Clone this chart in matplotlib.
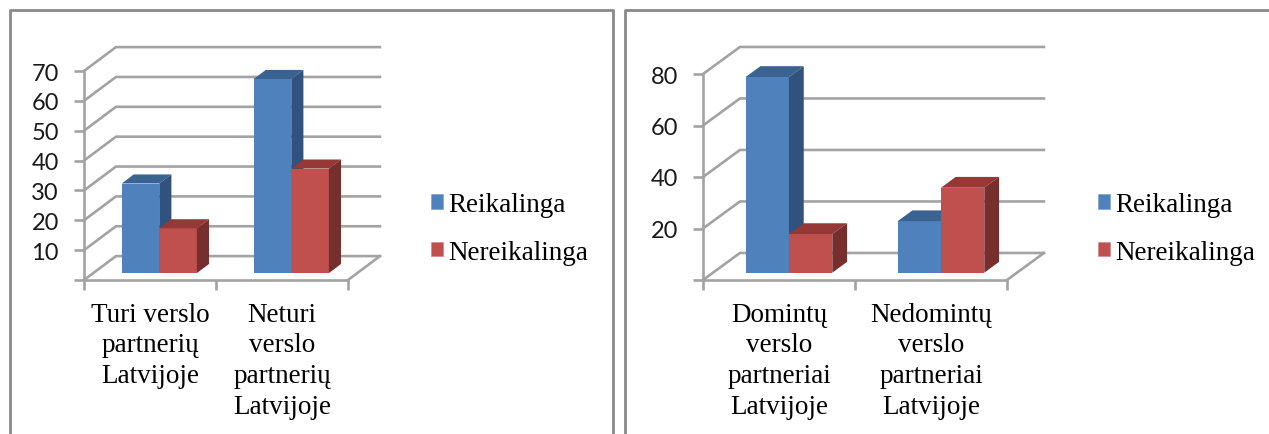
import matplotlib; matplotlib.use("Agg"); import matplotlib.pyplot as plt
from matplotlib.patches import Polygon, Patch
from matplotlib.lines import Line2D

W, H = 1269, 435
SERIES = ["Reikalinga", "Nereikalinga"]

CATS_L = ["Turi verslo\npartnerių\nLatvijoje", "Neturi\nverslo\npartnerių\nLatvijoje"]
REIK_L = [30, 65]
NEREIK_L = [15, 35]
TICKS_L = [0, 10, 20, 30, 40, 50, 60, 70]

CATS_R = ["Domintų\nverslo\npartneriai\nLatvijoje", "Nedomintų\nverslo\npartneriai\nLatvijoje"]
REIK_R = [76, 20]
NEREIK_R = [15, 33]
TICKS_R = [0, 20, 40, 60, 80]

FRONT = ["#4F81BD", "#C0504D"]
TOP = ["#3A6391", "#953836"]
SIDE = ["#30527C", "#772F2D"]
GRID = "#A3A3A3"
BAR_W = 0.285
LW = 1.9


def px_axes(fig, x0, x1, ytop, ybot):
    return fig.add_axes([x0 / W, 1 - ybot / H, (x1 - x0) / W, (ybot - ytop) / H])


def chart(ax, cats, a, b, ticks, depth_x, depth_y, near, far):
    """Fake Excel 3D columns. depth_x in category units, depth_y in value units;
    near/far = fraction of the floor depth where the bars start and end."""
    ax.set_xlim(0, len(cats)); ax.set_ylim(0, ticks[-1])
    ax.patch.set_visible(False)
    for s in ["top", "right"]:
        ax.spines[s].set_visible(False)
    for s in ["left", "bottom"]:
        ax.spines[s].set_color(GRID); ax.spines[s].set_linewidth(LW)
    ax.set_yticks(ticks)
    ax.set_yticklabels([""] + [str(t) for t in ticks[1:]], fontfamily="Lato", fontsize=17, color="#1a1a1a")
    ax.tick_params(axis="y", length=7, width=LW, color=GRID, pad=11)
    ax.set_xticks(range(len(cats) + 1)); ax.set_xticklabels([])
    ax.tick_params(axis="x", which="major", length=7, width=LW, color=GRID)
    ax.set_xticks([i + 0.5 for i in range(len(cats))], minor=True)
    ax.set_xticklabels(cats, minor=True, fontfamily="Liberation Serif", fontsize=19.5, linespacing=1.3)
    ax.tick_params(axis="x", which="minor", length=0, pad=15.5)

    # back wall gridlines + the diagonals running to the axis
    for t in ticks:
        ax.plot([0, depth_x, len(cats) + depth_x], [t, t + depth_y, t + depth_y], color=GRID, lw=LW,
                clip_on=False, zorder=1, solid_joinstyle="miter")
    ax.plot([len(cats), len(cats) + depth_x], [0, depth_y], color=GRID, lw=LW, clip_on=False, zorder=1)

    x_s, y_s = near * depth_x, near * depth_y
    dx, dy = (far - near) * depth_x, (far - near) * depth_y
    for i in range(len(cats)):
        left = i + 0.5 - BAR_W + x_s
        for j, v in enumerate([a[i], b[i]]):
            x0, x1 = left + j * BAR_W, left + (j + 1) * BAR_W
            y0, y1 = y_s, v + y_s
            z = 3 + j
            ax.add_patch(Polygon([(x0, y0), (x1, y0), (x1, y1), (x0, y1)], fc=FRONT[j], ec="none", clip_on=False, zorder=z))
            ax.add_patch(Polygon([(x0, y1), (x1, y1), (x1 + dx, y1 + dy), (x0 + dx, y1 + dy)], fc=TOP[j], ec="none", clip_on=False, zorder=z))
            ax.add_patch(Polygon([(x1, y0), (x1 + dx, y0 + dy), (x1 + dx, y1 + dy), (x1, y1)], fc=SIDE[j], ec="none", clip_on=False, zorder=z))


def key(fig, x, y):
    handles = [Patch(fc=FRONT[0], ec="#7FA3CE", lw=0.5), Patch(fc=FRONT[1], ec="#D08A88", lw=0.5)]
    fig.legend(handles, SERIES, loc="center left", bbox_to_anchor=(x / W, 1 - y / H), frameon=False,
               prop={"family": "Liberation Serif", "size": 19.5}, handlelength=0.46, handleheight=0.46,
               handletextpad=0.17, labelspacing=0.82, borderpad=0, borderaxespad=0)


fig = plt.figure(figsize=(W / 100, H / 100), dpi=100)

# panel frames (the crop cuts off their lower edge)
for xs, ys in [([10, 10, 613, 613], [H, 11, 11, H]), ([625, 625, W], [H, 11, 11])]:
    fig.add_artist(Line2D([x / W for x in xs], [1 - y / H for y in ys], color="#8A8A8A", lw=2))

ax1 = px_axes(fig, 84, 348, 72, 281)
chart(ax1, CATS_L, REIK_L, NEREIK_L, TICKS_L, 0.242, 8.0, 0.29, 0.67)
key(fig, 431, 229.5)

ax2 = px_axes(fig, 703, 1007, 75, 281)
chart(ax2, CATS_R, REIK_R, NEREIK_R, TICKS_R, 0.243, 10.5, 0.27, 0.67)
key(fig, 1098, 229.5)

fig.savefig("out.png", dpi=100)
